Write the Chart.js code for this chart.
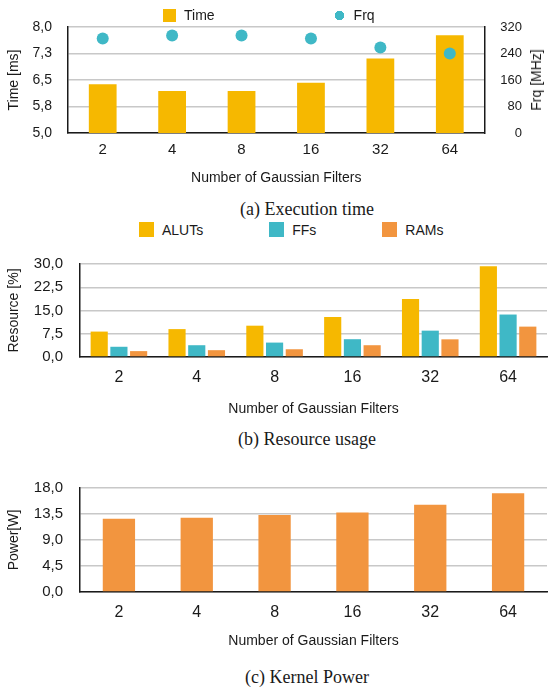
<!DOCTYPE html>
<html lang="en">

<head>
    <meta charset="UTF-8" />
    <title>Gaussian filters</title>
    <script src="https://cdn.jsdelivr.net/npm/chart.js"></script>
    <style>
        body { margin: 0; background: #fff; }
        #page { position: relative; width: 550px; height: 689px; overflow: hidden; font-family: "Liberation Sans", Arial, sans-serif; color: #1a1a1a; }
        canvas { position: absolute; left: 0; }
        .legenda { position: absolute; display: flex; align-items: center; font-size: 14px; }
        .legenda .item { display: flex; align-items: center; }
        .caption { position: absolute; left: 0; width: 614px; text-align: center; font-family: "Liberation Serif", "Times New Roman", serif; font-size: 18px; line-height: 20px; }
        .eixo-dir { position: absolute; font-size: 14px; white-space: nowrap; transform: translate(-50%, -50%) rotate(-90deg); }
    </style>
</head>

<body>
    <div id="page">
        <canvas id="timeChart" width="550" height="190" style="top:0"></canvas>
        <canvas id="resChart" width="550" height="182" style="top:238px"></canvas>
        <canvas id="powerChart" width="550" height="190" style="top:462px"></canvas>

        <div class="legenda" id="legTime" style="left:163px; top:8px; height:14px"></div>
        <div class="legenda" id="legRes" style="left:139px; top:222px; height:15px"></div>
        <div class="eixo-dir" style="left:536px; top:80px">Frq [MHz]</div>

        <div class="caption" style="top:199px">(a) Execution time</div>
        <div class="caption" style="top:429px">(b) Resource usage</div>
        <div class="caption" style="top:667px">(c) Kernel Power</div>
    </div>

    <script>
        // dados
        const filters = ['2', '4', '8', '16', '32', '64'];

        const timeMs = [6.38, 6.19, 6.19, 6.42, 7.11, 7.77];
        const frqMHz = [285, 294, 294, 285, 258, 240];
        const timeTicks = ['5,0', '5,8', '6,5', '7,3', '8,0'];
        const frqTicks = ['0', '80', '160', '240', '320'];

        const aluts = [8.2, 9.0, 10.1, 12.9, 18.7, 29.3];
        const ffs = [3.3, 3.8, 4.65, 5.74, 8.5, 13.7];
        const rams = [1.9, 2.2, 2.5, 3.8, 5.7, 9.8];
        const resourceTicks = ['0,0', '7,5', '15,0', '22,5', '30,0'];

        const powerW = [12.68, 12.83, 13.34, 13.74, 15.11, 17.09];
        const powerTicks = ['0,0', '4,5', '9,0', '13,5', '18,0'];

        const amarelo = '#F6B800';
        const azul = '#3FB8C6';
        const laranja = '#F2953F';
        const grade = '#c8c8c8';
        const preto = '#1a1a1a';
        const fonte = '"Liberation Sans", Arial, sans-serif';

        Chart.defaults.font.family = fonte;
        Chart.defaults.color = preto;

        // legenda em html
        function montarLegenda(id, nomes, cores, formas, gap, box) {
            const el = document.getElementById(id);
            nomes.forEach((nome, i) => {
                const item = document.createElement('div');
                item.className = 'item';
                if (i > 0) item.style.marginLeft = gap + 'px';
                const sw = document.createElement('span');
                sw.style.display = 'inline-block';
                sw.style.width = box + 'px';
                sw.style.height = box + 'px';
                sw.style.marginRight = '8px';
                if (formas[i] === 'circle') {
                    sw.style.background = `radial-gradient(circle, ${cores[i]} 4.5px, transparent 5px)`;
                } else {
                    sw.style.background = cores[i];
                }
                item.appendChild(sw);
                const txt = document.createElement('span');
                txt.textContent = nome;
                item.appendChild(txt);
                el.appendChild(item);
            });
        }

        montarLegenda('legTime', ['Time', 'Frq'], [amarelo, azul], ['rect', 'circle'], 118, 13);
        montarLegenda('legRes', ['ALUTs', 'FFs', 'RAMs'], [amarelo, azul, laranja], ['rect', 'rect', 'rect'], 66, 15);

        function eixoX(altura, tickPad, tickSize, titlePad) {
            return {
                grid: { display: false, drawTicks: false },
                border: { display: true, color: preto, width: 1.5 },
                ticks: { font: { size: tickSize }, padding: tickPad, color: preto },
                title: { display: true, text: 'Number of Gaussian Filters', font: { size: 14 }, padding: { top: 0, bottom: titlePad }, color: preto },
                afterFit: (s) => { s.height = altura; }
            };
        }

        function eixoY(min, max, passo, labels, titulo, largura) {
            return {
                min: min,
                max: max,
                grid: { color: grade, lineWidth: 1.5, drawTicks: false },
                border: { display: true, color: preto, width: 1.5 },
                ticks: {
                    stepSize: passo,
                    font: { size: largura > 70 ? 15 : 14 },
                    padding: largura > 70 ? 17 : 16,
                    color: preto,
                    callback: (v, i) => labels[i]
                },
                title: { display: true, text: titulo, font: { size: 14 }, padding: { top: 6, bottom: 0 }, color: preto },
                afterFit: (s) => { s.width = largura; }
            };
        }

        const comum = {
            responsive: false,
            animation: false,
            plugins: { legend: { display: false }, tooltip: { enabled: false } }
        };

        // TEMPO E FREQUENCIA
        new Chart(document.getElementById('timeChart'), {
            type: 'bar',
            data: {
                labels: filters,
                datasets: [{
                    type: 'bar',
                    label: 'Time',
                    data: timeMs,
                    backgroundColor: amarelo,
                    yAxisID: 'y',
                    barPercentage: 0.4,
                    categoryPercentage: 1,
                    order: 2
                }, {
                    type: 'line',
                    label: 'Frq',
                    data: frqMHz,
                    yAxisID: 'y1',
                    showLine: false,
                    pointRadius: 6,
                    pointBorderWidth: 0,
                    pointBackgroundColor: azul,
                    order: 1
                }]
            },
            options: {
                ...comum,
                layout: { padding: { top: 27, left: 0, right: 28, bottom: 0 } },
                scales: {
                    x: eixoX(57, 8, 15, 3),
                    y: eixoY(5, 8, 0.75, timeTicks, 'Time [ms]', 68),
                    y1: {
                        position: 'right',
                        min: 0,
                        max: 320,
                        grid: { display: false, drawTicks: false },
                        border: { display: true, color: preto, width: 1.5 },
                        ticks: { stepSize: 80, font: { size: 13 }, padding: 15, crossAlign: 'far', color: preto, callback: (v, i) => frqTicks[i] },
                        afterFit: (s) => { s.width = 37.5; }
                    }
                }
            }
        });

        // RECURSOS
        new Chart(document.getElementById('resChart'), {
            type: 'bar',
            data: {
                labels: filters,
                datasets: [
                    { label: 'ALUTs', data: aluts, backgroundColor: amarelo },
                    { label: 'FFs', data: ffs, backgroundColor: azul },
                    { label: 'RAMs', data: rams, backgroundColor: laranja }
                ]
            },
            options: {
                ...comum,
                datasets: { bar: { categoryPercentage: 0.76, barPercentage: 0.87 } },
                layout: { padding: { top: 9, left: 0, right: 3, bottom: 0 } },
                scales: {
                    x: eixoX(63, 11, 16, 2),
                    y: eixoY(0, 30, 7.5, resourceTicks, 'Resource [%]', 80)
                }
            }
        });

        // POTENCIA
        new Chart(document.getElementById('powerChart'), {
            type: 'bar',
            data: {
                labels: filters,
                datasets: [{
                    label: 'Power',
                    data: powerW,
                    backgroundColor: laranja,
                    barPercentage: 0.415,
                    categoryPercentage: 1
                }]
            },
            options: {
                ...comum,
                layout: { padding: { top: 12, left: 0, right: 3, bottom: 0 } },
                scales: {
                    x: eixoX(60, 11, 16, 2),
                    y: eixoY(0, 18, 4.5, powerTicks, 'Power[W]', 80)
                }
            }
        });
    </script>
</body>

</html>
